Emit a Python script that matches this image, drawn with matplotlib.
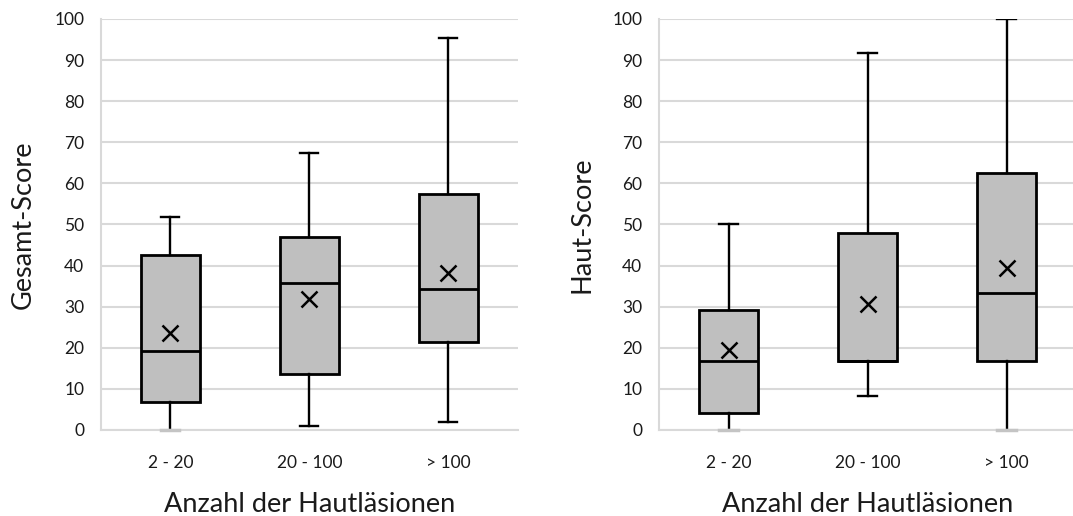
import matplotlib
matplotlib.use('Agg')
import matplotlib.pyplot as plt

plt.rcParams['font.family'] = ['Lato', 'DejaVu Sans']

categories = ['2 - 20', '20 - 100', '> 100']
xlabel = 'Anzahl der Hautläsionen'

# Gesamt-Score
gesamt_whislo = [0, 1.0, 1.9]
gesamt_q1 = [6.9, 13.6, 21.5]
gesamt_med = [19.3, 35.7, 34.3]
gesamt_q3 = [42.6, 46.9, 57.4]
gesamt_whishi = [51.9, 67.3, 95.3]
gesamt_mean = [23.5, 31.8, 38.3]

# Haut-Score
haut_whislo = [0, 8.3, 0]
haut_q1 = [4.2, 16.7, 16.7]
haut_med = [16.8, 16.7, 33.4]
haut_q3 = [29.2, 47.9, 62.5]
haut_whishi = [50, 91.8, 100]
haut_mean = [19.5, 30.7, 39.5]

def make_stats(lo, q1, med, q3, hi, mean):
    return [dict(whislo=lo[i], q1=q1[i], med=med[i], q3=q3[i], whishi=hi[i],
                 mean=mean[i], fliers=[], label=categories[i])
            for i in range(len(categories))]

def draw(ax, stats, ylabel):
    pos = [0.5, 1.5, 2.5]
    res = ax.bxp(stats, positions=pos, widths=0.43, capwidths=0.13,
                 showmeans=True, patch_artist=True, showfliers=False,
                 boxprops=dict(facecolor='#bfbfbf', edgecolor='black', linewidth=2.0),
                 medianprops=dict(color='black', linewidth=2.0),
                 whiskerprops=dict(color='black', linewidth=1.7),
                 capprops=dict(color='black', linewidth=1.7),
                 meanprops=dict(marker='x', markeredgecolor='black', markersize=11,
                                markeredgewidth=1.8))
    # caps sitting on the zero line show up grey in the original
    for cap in res['caps']:
        if max(cap.get_ydata()) <= 0:
            cap.set_color('#c4c4c4')
            cap.set_linewidth(2.5)
            cap.set_zorder(3)
            cap.set_clip_on(False)
    ax.set_xlim(0, 3)
    ax.set_ylim(0, 100)
    ax.set_yticks(range(0, 101, 10))
    ax.set_xticks(pos)
    ax.set_xticklabels(categories)
    ax.yaxis.grid(True, color='#d9d9d9', linewidth=1.5)
    ax.set_axisbelow(True)
    for s in ['top', 'right']:
        ax.spines[s].set_visible(False)
    for s in ['left', 'bottom']:
        ax.spines[s].set_color('#d9d9d9')
        ax.spines[s].set_linewidth(1.5)
    ax.tick_params(axis='both', length=0, labelsize=12.5, colors='#1a1a1a')
    ax.tick_params(axis='y', pad=12)
    ax.tick_params(axis='x', pad=18)
    ax.set_ylabel(ylabel, fontsize=19.5, labelpad=13, color='#1a1a1a')
    ax.set_xlabel(xlabel, fontsize=19.5, labelpad=15, color='#1a1a1a')

fig = plt.figure(figsize=(10.73, 5.16), dpi=100)
ax1 = fig.add_axes([0.0941, 0.1667, 0.3886, 0.7965])
ax2 = fig.add_axes([0.6142, 0.1667, 0.3886, 0.7965])

draw(ax1, make_stats(gesamt_whislo, gesamt_q1, gesamt_med, gesamt_q3, gesamt_whishi, gesamt_mean), 'Gesamt-Score')
draw(ax2, make_stats(haut_whislo, haut_q1, haut_med, haut_q3, haut_whishi, haut_mean), 'Haut-Score')

fig.savefig('out.png', dpi=100)
